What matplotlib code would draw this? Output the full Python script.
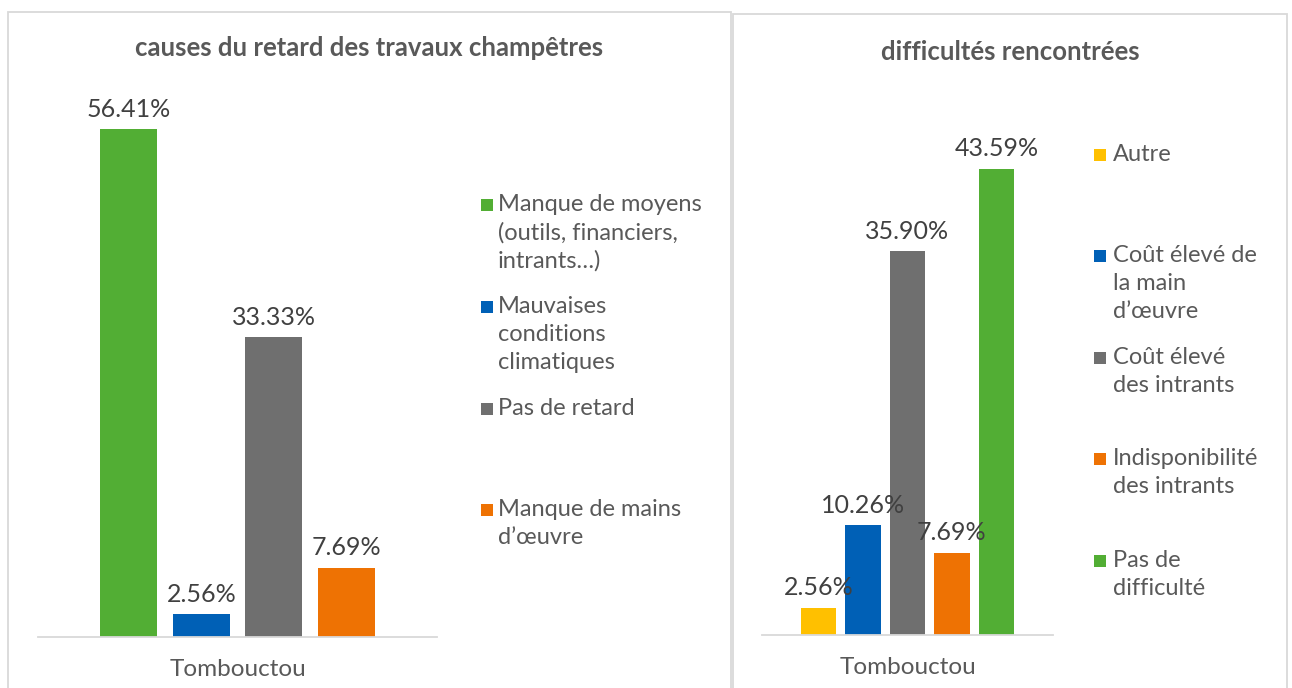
import matplotlib.pyplot as plt
from matplotlib.patches import Rectangle
import numpy as np

plt.rcParams['font.family'] = ['Lato', 'DejaVu Sans']

# left chart: causes du retard des travaux champêtres
left_title = 'causes du retard des travaux champêtres'
left_cats = ['Manque de moyens\n(outils, financiers,\nintrants…)',
             'Mauvaises\nconditions\nclimatiques',
             'Pas de retard',
             'Manque de mains\nd’œuvre']
left_vals = [56.41, 2.56, 33.33, 7.69]
left_colors = ['#52AE34', '#0060B6', '#6F6F6F', '#EE7203']

# right chart: difficultés rencontrées
right_title = 'difficultés rencontrées'
right_cats = ['Autre',
              'Coût élevé de\nla main\nd’œuvre',
              'Coût élevé\ndes intrants',
              'Indisponibilité\ndes intrants',
              'Pas de\ndifficulté']
right_vals = [2.56, 10.26, 35.90, 7.69, 43.59]
right_colors = ['#FFC000', '#0060B6', '#6F6F6F', '#EE7203', '#52AE34']

region = ['Tombouctou']

W, H = 1292, 688
fig = plt.figure(figsize=(W / 100, H / 100), dpi=100)

TXT = '#595959'
LBL = '#404040'
GRID = '#D9D9D9'


def px(x0, y0, x1, y1):
    # pixel box -> figure fraction [left, bottom, width, height]
    return [x0 / W, 1 - y1 / H, (x1 - x0) / W, (y1 - y0) / H]


def draw(ax, vals, colors, pitch, width, ymax):
    n = len(vals)
    x = (np.arange(n) - (n - 1) / 2) * pitch
    bars = ax.bar(x, vals, width, color=colors)
    ax.bar_label(bars, labels=[f'{v:.2f}%' for v in vals], padding=6,
                 fontsize=18, color=LBL)
    ax.set_xlim(-0.5, 0.5)
    ax.set_ylim(0, ymax)
    ax.set_xticks([0])
    ax.set_xticklabels(region, fontsize=17.5, color=TXT)
    ax.tick_params(axis='x', length=0, pad=16)
    ax.set_yticks([])
    for s in ['top', 'right', 'left']:
        ax.spines[s].set_visible(False)
    ax.spines['bottom'].set_color(GRID)
    ax.spines['bottom'].set_linewidth(1.3)
    ax.patch.set_alpha(0)


def legend(cats, colors, x_mark, x_text, y_first):
    for lab, c, y in zip(cats, colors, y_first):
        fig.add_artist(Rectangle(((x_mark - 6) / W, 1 - (y + 8) / H), 12 / W, 12 / H,
                                 transform=fig.transFigure, color=c, lw=0))
        fig.text(x_text / W, 1 - (y - 9) / H, lab, fontsize=17, color=TXT,
                 va='top', ha='left', linespacing=1.4)


# panel frames
fig.add_artist(Rectangle((8 / W, -0.05), 723 / W, 1.05 - 12 / H, transform=fig.transFigure,
                         fill=False, edgecolor=GRID, lw=1.3))
fig.add_artist(Rectangle((733 / W, -0.05), 554 / W, 1.05 - 14 / H, transform=fig.transFigure,
                         fill=False, edgecolor=GRID, lw=1.3))

ax1 = fig.add_axes(px(38, 97, 437, 637))
draw(ax1, left_vals, left_colors, 72.5 / 399, 57 / 399, 60)
fig.text(369 / W, 1 - 48 / H, left_title, fontsize=18.5, fontweight='bold', color=TXT,
         ha='center', va='center')
legend(left_cats, left_colors, 487, 498, [203, 305, 407, 508])

ax2 = fig.add_axes(px(762, 100, 1053, 635))
draw(ax2, right_vals, right_colors, 44.4 / 291, 35.5 / 291, 50)
fig.text(1010 / W, 1 - 52 / H, right_title, fontsize=18.5, fontweight='bold', color=TXT,
         ha='center', va='center')
legend(right_cats, right_colors, 1100, 1113, [153, 254, 356, 457, 559])

fig.savefig('out.png', dpi=100)
